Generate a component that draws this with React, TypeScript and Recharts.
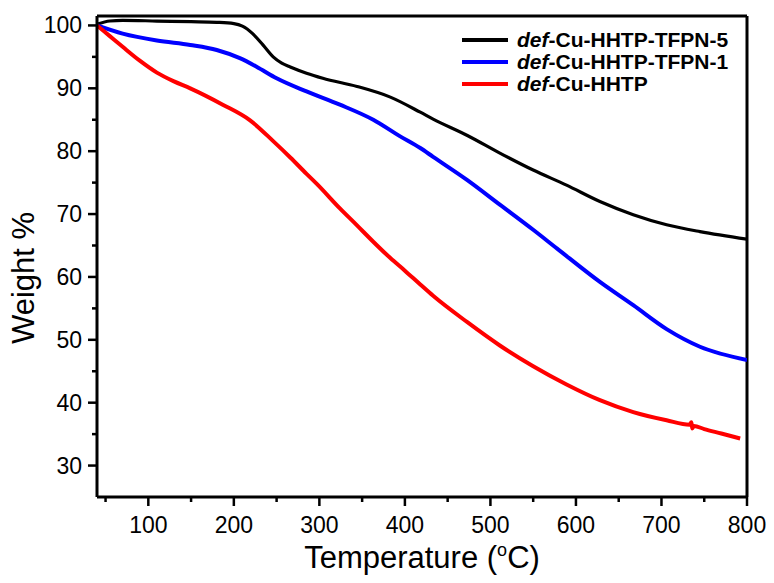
import React from 'react';
import { LineChart, Line, XAxis, YAxis, ReferenceLine, Legend } from 'recharts';

// Temperature (°C) / Weight % for each sample
const tempTFPN5 = [40, 55, 70, 110, 150, 180, 200, 210, 222, 234, 246, 256, 266, 285, 304, 344, 383, 418, 433, 473, 511, 550, 589, 628, 667, 706, 745, 800];
const weightTFPN5 = [100.2, 100.7, 100.8, 100.7, 100.6, 100.5, 100.3, 99.9, 98.7, 96.9, 95.0, 94.0, 93.4, 92.4, 91.6, 90.3, 88.6, 86.2, 85.1, 82.5, 79.7, 77.0, 74.6, 72.0, 69.9, 68.3, 67.2, 66.0];

const tempTFPN1 = [40, 70, 110, 149, 180, 207, 227, 250, 285, 324, 363, 394, 418, 433, 473, 511, 550, 578, 628, 667, 706, 745, 800];
const weightTFPN1 = [100, 98.7, 97.6, 96.9, 96.1, 94.8, 93.4, 91.6, 89.5, 87.4, 85.0, 82.4, 80.5, 79.1, 75.4, 71.5, 67.5, 64.5, 59.2, 55.5, 51.7, 48.9, 46.8];

const tempHHTP = [40, 55, 70, 90, 110, 130, 149, 187, 219, 246, 266, 285, 297, 324, 344, 363, 383, 400, 418, 433, 473, 511, 550, 589, 628, 667, 706, 733, 735, 736, 738, 750, 770, 792];
const weightHHTP = [100, 98.3, 96.6, 94.4, 92.5, 91.1, 90.0, 87.4, 84.9, 81.6, 79.0, 76.4, 74.8, 70.9, 68.2, 65.6, 63.0, 61.0, 58.8, 57.0, 52.8, 49.1, 45.8, 42.9, 40.4, 38.5, 37.2, 36.5, 36.9, 35.9, 36.3, 35.8, 35.1, 34.3];

const seriesNames = ['-Cu-HHTP-TFPN-5', '-Cu-HHTP-TFPN-1', '-Cu-HHTP'];
const seriesColors = ['#000000', '#0000ff', '#ff0000'];

const xTicks = [50, 100, 150, 200, 250, 300, 350, 400, 450, 500, 550, 600, 650, 700, 750, 800];
const yTicks = [30, 35, 40, 45, 50, 55, 60, 65, 70, 75, 80, 85, 90, 95, 100];

const toRows = (t: number[], w: number[]) => t.map((v, i) => ({ t: v, w: w[i] }));
const dataTFPN5 = toRows(tempTFPN5, weightTFPN5);
const dataTFPN1 = toRows(tempTFPN1, weightTFPN1);
const dataHHTP = toRows(tempHHTP, weightHHTP);

const FONT = 'Arial, "Liberation Sans", sans-serif';

const XTick = (props: any) => {
  const { x, y, payload } = props;
  const major = payload.value % 100 === 0;
  return (
    <g>
      <line x1={x} x2={x} y1={y} y2={y + (major ? 9 : 5)} stroke="#000" strokeWidth={2.5} />
      {major && (
        <text x={x} y={y + 36} textAnchor="middle" fontSize={23} fontFamily={FONT} fill="#000">
          {payload.value}
        </text>
      )}
    </g>
  );
};

const YTick = (props: any) => {
  const { x, y, payload } = props;
  const major = payload.value % 10 === 0;
  return (
    <g>
      <line x1={x - (major ? 9 : 5)} x2={x} y1={y} y2={y} stroke="#000" strokeWidth={2.5} />
      {major && (
        <text x={x - 15} y={y + 8} textAnchor="end" fontSize={23} fontFamily={FONT} fill="#000">
          {payload.value}
        </text>
      )}
    </g>
  );
};

const renderLegend = (props: any) => {
  const payload = props.payload || [];
  const ordered = seriesNames
    .map((n) => payload.find((p: any) => p.value === n))
    .filter(Boolean);
  return (
    <svg width={320} height={80}>
      {ordered.map((p: any, i: number) => {
        const y = 20 + i * 22;
        return (
          <g key={i}>
            <line x1={22} x2={68} y1={y} y2={y} stroke={p.color} strokeWidth={4} />
            <text x={77} y={y + 6.5} fontSize={21} fontWeight="bold" fontFamily={FONT} fill="#000">
              <tspan fontStyle="italic">def</tspan>
              <tspan>{p.value}</tspan>
            </text>
          </g>
        );
      })}
    </svg>
  );
};

export default function App() {
  return (
    <div style={{ position: 'absolute', left: 0, top: 0, background: '#fff' }}>
      <LineChart width={774} height={583} margin={{ top: 16, right: 27, bottom: 0, left: 0 }}>
        <XAxis
          type="number"
          dataKey="t"
          domain={[40, 800]}
          ticks={xTicks}
          interval={0}
          allowDataOverflow
          height={86}
          tickSize={0}
          tickMargin={0}
          tickLine={false}
          tick={<XTick />}
          axisLine={{ stroke: '#000', strokeWidth: 3 }}
          label={{
            content: () => (
              <text x={422} y={568} textAnchor="middle" fontSize={31} fontFamily={FONT} fill="#000">
                Temperature (<tspan fontSize={18} dy={-12}>o</tspan>
                <tspan dy={12}>C)</tspan>
              </text>
            ),
          }}
        />
        <YAxis
          type="number"
          domain={[25, 101.5]}
          ticks={yTicks}
          interval={0}
          allowDataOverflow
          width={97}
          tickSize={0}
          tickMargin={0}
          tickLine={false}
          tick={<YTick />}
          axisLine={{ stroke: '#000', strokeWidth: 3 }}
          label={{
            content: () => (
              <text
                x={34}
                y={278}
                transform="rotate(-90 34 278)"
                textAnchor="middle"
                fontSize={31}
                fontFamily={FONT}
                fill="#000"
              >
                Weight %
              </text>
            ),
          }}
        />
        <ReferenceLine y={101.5} stroke="#000" strokeWidth={3} />
        <ReferenceLine x={800} stroke="#000" strokeWidth={3} />
        <Legend
          layout="vertical"
          align="center"
          verticalAlign="middle"
          content={renderLegend}
          wrapperStyle={{ left: 440, top: 20, width: 320, height: 80 }}
        />
        <Line data={dataTFPN5} dataKey="w" name={seriesNames[0]} stroke={seriesColors[0]} strokeWidth={3.2} dot={false} isAnimationActive={false} type="monotone" />
        <Line data={dataTFPN1} dataKey="w" name={seriesNames[1]} stroke={seriesColors[1]} strokeWidth={4} dot={false} isAnimationActive={false} type="monotone" />
        <Line data={dataHHTP} dataKey="w" name={seriesNames[2]} stroke={seriesColors[2]} strokeWidth={4} dot={false} isAnimationActive={false} type="monotone" />
      </LineChart>
    </div>
  );
}
